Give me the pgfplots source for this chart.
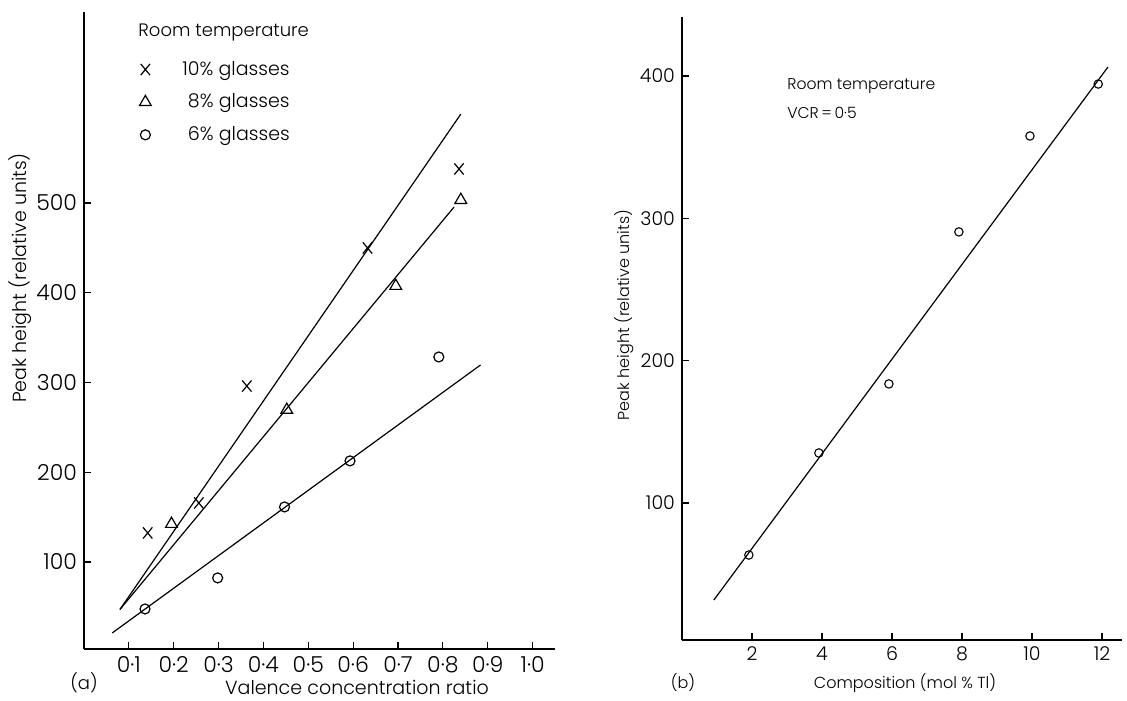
\documentclass[border=0pt]{standalone}
\usepackage{fontspec}
\setmainfont{Poppins}[UprightFont={* Light}]
\usepackage{pgfplots}
\pgfplotsset{compat=1.18}
\pgfplotsset{
  common/.style={
    scale only axis, clip=false,
    axis lines=left, axis line style={-, line width=0.6pt, black},
    tick align=inside, major tick length=3.5pt,
    tick style={line width=0.6pt, black},
    /pgf/number format/assume math mode=true,
  },
  legmark/.style={legend image code/.code={\path[draw=none] (-4pt,0pt) -- (16.5pt,0pt); \draw[##1] plot coordinates {(0pt,0pt)};}},
}
\begin{document}
\begin{tikzpicture}
\path[use as bounding box] (0,0) rectangle (563.5pt,350pt);
% ---------------- panel (a)
\begin{axis}[common,
  at={(42pt,25.5pt)}, anchor=south west,
  width=235.5pt, height=318.5pt,
  xmin=0, xmax=1.05, ymin=3, ymax=712.8,
  xtick={0.1,0.2,0.3,0.4,0.5,0.6,0.7,0.8,0.9,1.0},
  xticklabels={0\textperiodcentered1,0\textperiodcentered2,0\textperiodcentered3,0\textperiodcentered4,0\textperiodcentered5,0\textperiodcentered6,0\textperiodcentered7,0\textperiodcentered8,0\textperiodcentered9,1\textperiodcentered0},
  ytick={100,200,300,400,500},
  every tick label/.append style={font=\fontsize{11}{13}\selectfont},
  legend style={at={(rel axis cs:0.1125,0.93)}, anchor=north west, draw=none, fill=none,
    inner sep=0pt, row sep=3.8pt, font=\fontsize{9.5}{11}\selectfont},
  legend cell align=left,
]
\addplot[black, line width=0.6pt, forget plot] coordinates {(0.08,47) (0.84,599)};
\addplot[black, line width=0.6pt, forget plot] coordinates {(0.08,47) (0.825,495.5)};
\addplot[black, line width=0.6pt, forget plot] coordinates {(0.063,20.9) (0.884,319.5)};
\addplot[only marks, black, mark=x, mark size=3.3pt, mark options={line width=0.6pt, yscale=1.2}, legmark]
  coordinates {(0.142,132.3) (0.256,165.7) (0.363,296) (0.632,449.9) (0.836,537.9)};
\addlegendentry{10\% glasses}
\addplot[only marks, black, mark=triangle, mark size=3.4pt, mark options={line width=0.6pt}, legmark]
  coordinates {(0.195,142.3) (0.452,269.4) (0.695,407.5) (0.84,503.3)};
\addlegendentry{\phantom{1}8\% glasses}
\addplot[only marks, black, mark=o, mark size=2.5pt, mark options={line width=0.6pt}, legmark]
  coordinates {(0.136,47.6) (0.298,82.2) (0.447,161.3) (0.593,212.6) (0.791,328.4)};
\addlegendentry{\phantom{1}6\% glasses}
\end{axis}
\node[anchor=west, font=\fontsize{9}{11}\selectfont, inner sep=0pt] at (69pt,333.5pt) {Room temperature};
\node[rotate=90, font=\fontsize{9.5}{11}\selectfont] at (10pt,211pt) {Peak height (relative units)};
\node[font=\fontsize{9.5}{11}\selectfont] at (178.5pt,6.5pt) {Valence concentration ratio};
\node[font=\fontsize{9}{11}\selectfont] at (42pt,8.5pt) {(a)};
% ---------------- panel (b)
\begin{axis}[common,
  at={(341pt,30pt)}, anchor=south west,
  width=220pt, height=311.5pt,
  xmin=0, xmax=12.57, ymin=3.7, ymax=441.4,
  xtick={2,4,6,8,10,12},
  ytick={100,200,300,400},
  every tick label/.append style={font=\fontsize{9.5}{11}\selectfont},
]
\addplot[black, line width=0.6pt] coordinates {(0.91,31.8) (12.17,406.3)};
\addplot[only marks, black, mark=o, mark size=2.1pt, mark options={line width=0.55pt}]
  coordinates {(1.91,63.4) (3.91,135.1) (5.91,183.6) (7.91,290.4) (9.94,357.8) (11.89,394.3)};
\end{axis}
\node[anchor=west, font=\fontsize{7.8}{10}\selectfont, inner sep=0pt] at (393.5pt,307pt) {Room temperature};
\node[anchor=west, font=\fontsize{7.8}{10}\selectfont, inner sep=0pt] at (393.5pt,293.5pt) {VCR\,=\,0\textperiodcentered5};
\node[rotate=90, font=\fontsize{8}{10}\selectfont] at (312pt,192.5pt) {Peak height (relative units)};
\node[font=\fontsize{8}{10}\selectfont] at (452.5pt,8.5pt) {Composition (mol \% Tl)};
\node[font=\fontsize{8}{10}\selectfont] at (341.5pt,8.5pt) {(b)};
\end{tikzpicture}
\end{document}
